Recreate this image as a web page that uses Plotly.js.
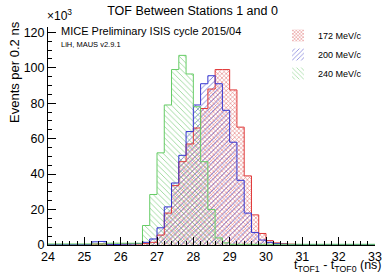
<!DOCTYPE html>
<html>
<head>
<meta charset="utf-8">
<script src="https://cdn.plot.ly/plotly-3.0.1.min.js"></script>
<style>html,body{margin:0;padding:0;background:#fff;}#chart{width:385px;height:273px;}</style>
</head>
<body>
<div id="chart"></div>
<script>
// Bin edges (ns), 0.2 ns bins
const binEdges = [24.0,24.2,24.4,24.6,24.8,25.0,25.2,25.4,25.6,25.8,26.0,26.2,26.4,26.6,26.8,
  27.0,27.2,27.4,27.6,27.8,28.0,28.2,28.4,28.6,28.8,29.0,29.2,29.4,29.6,29.8,
  30.0,30.2,30.4,30.6,30.8,31.0,31.2,31.4,31.6,31.8,32.0,32.2,32.4,32.6,32.8,33.0];
// Events per bin (x10^3)
const counts172 = [0.1,0.1,0.1,0.1,0.1,0.2,0.5,0.6,0.3,0.3,0.6,0.7,0.6,0.8,1.5,
  5.6,18,33.5,47,57,66,77,88,99,99,87.5,66.5,39,17,6.5,
  2.5,1.2,0.8,0.5,0.3,0.2,0.1,0.1,0.1,0.1,0.1,0.1,0.1,0.1,0.1];
const counts200 = [0.2,0.2,0.2,0.2,0.2,0.2,1.8,2.0,0.4,0.3,0.5,0.6,0.8,1.5,3.4,
  9.7,21.5,35,50.6,64,79,91,95.5,91,76,58,36.5,18,7,2.8,
  1.5,0.8,0.5,0.3,0.2,0.2,0.2,0.2,0.2,0.2,0.2,0.2,0.2,0.2,0.2];
const counts240 = [0.6,0.6,0.6,0.6,0.6,0.6,0.6,0.6,1.0,1.0,1.0,1.0,1.0,11,28.5,
  52,79,99,107,96.5,78,47,20,4,1.2,0.4,0.4,0.4,0.4,0.4,
  0.4,0.4,0.4,0.4,0.4,0.4,0.4,0.4,0.4,0.4,0.4,0.4,0.4,0.4,0.4];
const seriesNames = ['172 MeV/c','200 MeV/c','240 MeV/c'];
const xTicks = [24,25,26,27,28,29,30,31,32,33];
const yTicks = [0,20,40,60,80,100,120];

const FONT = 'Liberation Sans, Arial, Helvetica, sans-serif';
const L = 48, R = 10, T = 27, B = 28, W = 385, H = 273;
const px = v => (v - L) / (W - L - R);
const py = v => (H - B - v) / (H - T - B);

const styles = [
  {line:'#e03838', pat:{shape:'x', fgcolor:'#d84848', fgopacity:0.85, bgcolor:'rgba(0,0,0,0)', size:3, solidity:0.3}},
  {line:'#3434d0', pat:{shape:'/', fgcolor:'#4040c8', fgopacity:0.8, bgcolor:'rgba(0,0,0,0)', size:4, solidity:0.2}},
  {line:'#66cc66', pat:{shape:'\\', fgcolor:'#70c870', fgopacity:0.8, bgcolor:'rgba(0,0,0,0)', size:4, solidity:0.2}}
];
const allCounts = [counts172, counts200, counts240];
const lowEdges = binEdges.slice(0, -1);

const traces = [];
allCounts.forEach((c, i) => {
  traces.push({
    type:'bar', x: lowEdges, y: c, width: 0.2, offset: 0,
    name: seriesNames[i],
    marker:{color:'rgba(0,0,0,0)', pattern: styles[i].pat, line:{width:0}},
    hoverinfo:'skip', showlegend:true
  });
});
allCounts.forEach((c, i) => {
  const xs = [binEdges[0]].concat(binEdges).concat([binEdges[binEdges.length-1]]);
  const ys = [0].concat(c).concat([c[c.length-1], 0]);
  traces.push({
    type:'scatter', mode:'lines', x: xs, y: ys,
    line:{shape:'hv', color: styles[i].line, width:1},
    showlegend:false, hoverinfo:'skip'
  });
});

const layout = {
  width: W, height: H,
  margin:{l:L, r:R, t:T, b:B, pad:0},
  paper_bgcolor:'#fff', plot_bgcolor:'#fff',
  font:{family:FONT, size:12.5, color:'#000'},
  barmode:'overlay', bargap:0,
  title:{text:'TOF Between Stations 1 and 0', x:0.5, xanchor:'center', y:1-11/H, yanchor:'middle', font:{family:FONT, size:12.5}},
  xaxis:{range:[24,33], tickvals:xTicks, ticks:'inside', ticklen:8, tickcolor:'#000',
    showline:true, linecolor:'#000', linewidth:1, mirror:false, showgrid:false, zeroline:false,
    tickfont:{family:FONT, size:12.5}, minor:{dtick:0.2, ticks:'inside', ticklen:4, tickcolor:'#000', showgrid:false}},
  yaxis:{range:[0,123], tickvals:yTicks, ticks:'inside', ticklen:8, tickcolor:'#000',
    showline:true, linecolor:'#000', linewidth:1, mirror:false, showgrid:false, zeroline:false,
    tickfont:{family:FONT, size:12.5}, minor:{dtick:5, ticks:'inside', ticklen:4, tickcolor:'#000', showgrid:false}},
  legend:{x:px(278), y:py(21), xanchor:'left', yanchor:'top', bgcolor:'rgba(0,0,0,0)',
    font:{family:FONT, size:9}, itemwidth:30, tracegroupgap:0},
  annotations:[
    {text:'Events per 0.2 ns', textangle:-90, xref:'paper', yref:'paper', x:px(14), y:py(19),
      xanchor:'center', yanchor:'top', showarrow:false, font:{family:FONT, size:13}},
    {text:'t<sub>TOF1</sub> - t<sub>TOF0</sub> (ns)', xref:'paper', yref:'paper', x:px(383), y:py(265.5),
      xanchor:'right', yanchor:'middle', showarrow:false, borderpad:0, font:{family:FONT, size:12.5}},
    {text:'×10<sup>3</sup>', xref:'paper', yref:'paper', x:px(45), y:py(15),
      xanchor:'left', yanchor:'middle', showarrow:false, font:{family:FONT, size:12}},
    {text:'MICE Preliminary ISIS cycle 2015/04', xref:'paper', yref:'paper', x:px(59), y:py(31),
      xanchor:'left', yanchor:'middle', showarrow:false, font:{family:FONT, size:11}},
    {text:'LiH, MAUS v2.9.1', xref:'paper', yref:'paper', x:px(59), y:py(44),
      xanchor:'left', yanchor:'middle', showarrow:false, font:{family:FONT, size:7.5}}
  ]
};
Plotly.newPlot('chart', traces, layout, {displayModeBar:false, staticPlot:true});
</script>
</body>
</html>
